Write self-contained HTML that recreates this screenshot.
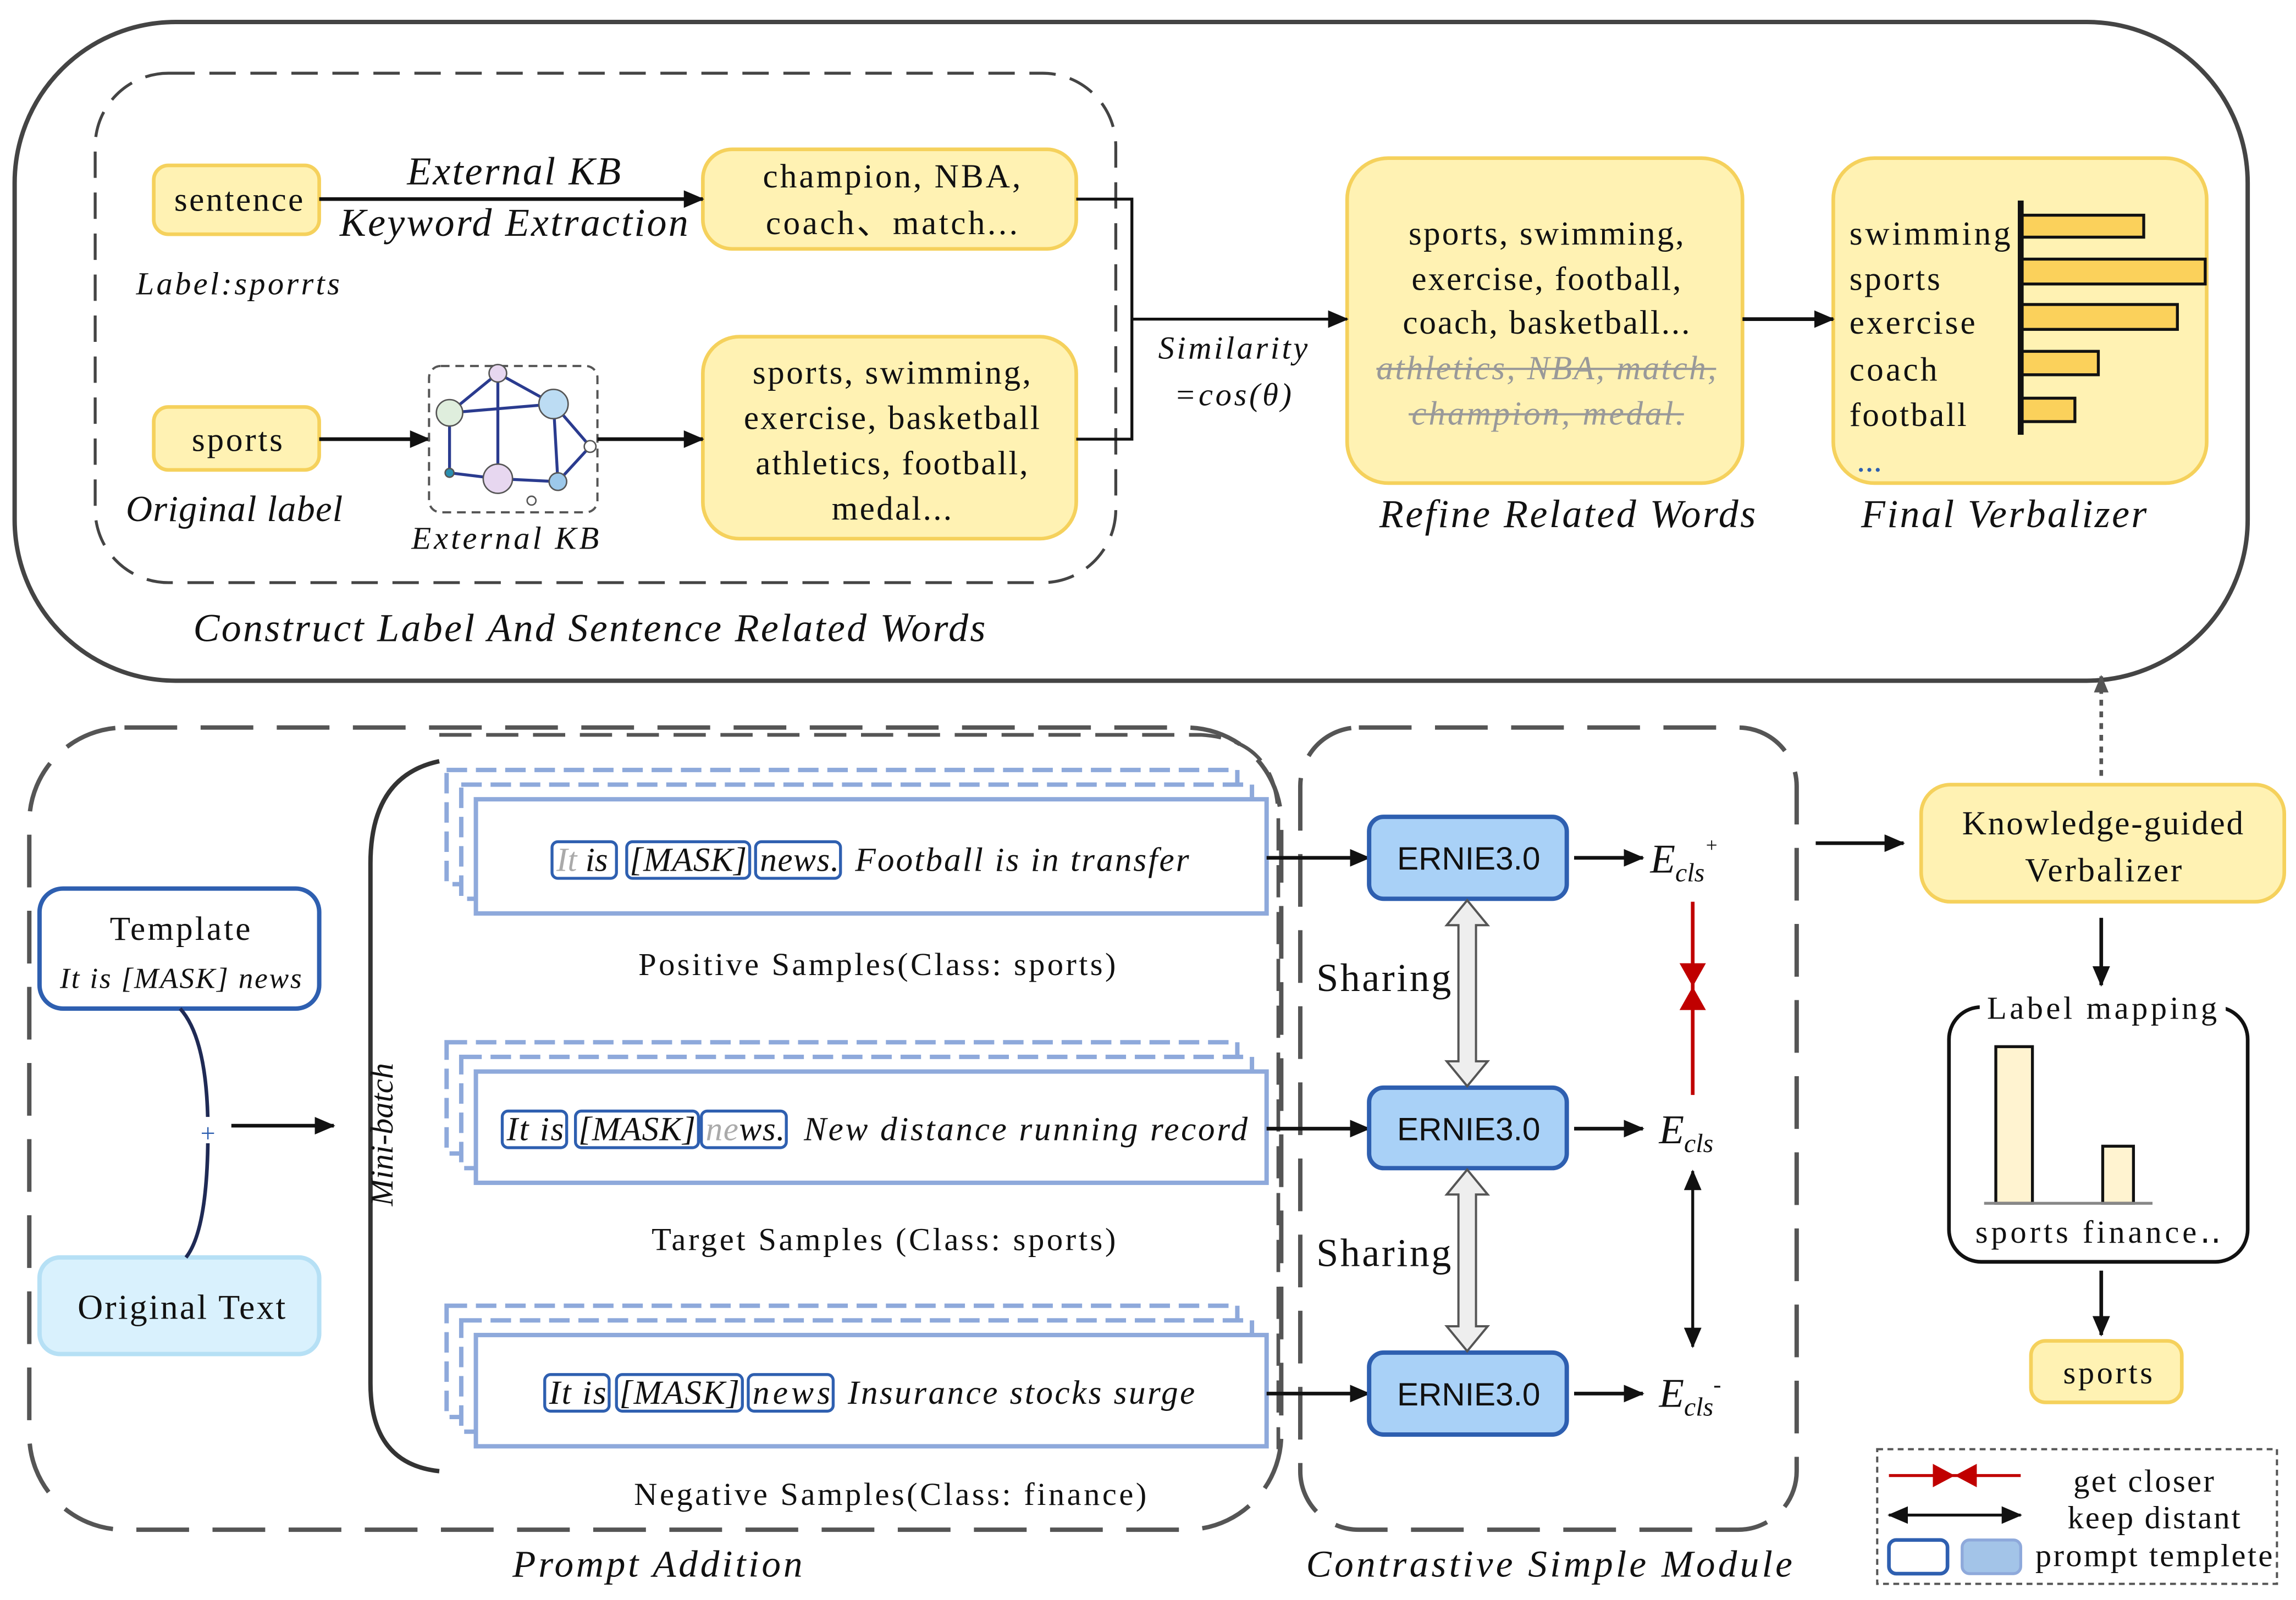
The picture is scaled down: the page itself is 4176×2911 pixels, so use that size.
<!DOCTYPE html>
<html><head><meta charset="utf-8"><style>
html,body{margin:0;padding:0;background:#fff}
svg{display:block}
text{font-family:"Liberation Serif",serif;fill:#111}
.i{font-style:italic}
.s{font-family:"Liberation Sans",sans-serif}
</style></head><body>
<svg width="4176" height="2911" viewBox="0 0 1568 1093" xmlns="http://www.w3.org/2000/svg">
<defs>
<marker id="a" markerWidth="10" markerHeight="10" refX="9" refY="5" orient="auto" markerUnits="userSpaceOnUse"><path d="M0,0 L10,5 L0,10 Z" fill="#111"/></marker>
<marker id="a2" markerWidth="14" markerHeight="12" refX="13" refY="6" orient="auto" markerUnits="userSpaceOnUse"><path d="M0,0 L14,6 L0,12 Z" fill="#111"/></marker>
<marker id="as" markerWidth="14" markerHeight="12" refX="1" refY="6" orient="auto" markerUnits="userSpaceOnUse"><path d="M14,0 L0,6 L14,12 Z" fill="#111"/></marker>
<marker id="ag" markerWidth="12" markerHeight="10" refX="11" refY="5" orient="auto" markerUnits="userSpaceOnUse"><path d="M0,0 L12,5 L0,10 Z" fill="#555"/></marker>
</defs>

<rect x="10" y="15" width="1525" height="450" rx="110" fill="none" stroke="#444" stroke-width="3"/>
<rect x="65" y="50" width="697" height="348" rx="50" fill="none" stroke="#444" stroke-width="2" stroke-dasharray="18,10"/>

<g fill="#fff2b3" stroke="#f5d15c" stroke-width="2.5">
<rect x="105" y="113" width="113" height="47" rx="10"/>
<rect x="105" y="278" width="113" height="43" rx="10"/>
<rect x="480" y="102" width="255" height="68" rx="20"/>
<rect x="480" y="230" width="255" height="138" rx="25"/>
<rect x="920" y="108" width="270" height="222" rx="28"/>
<rect x="1252" y="108" width="255" height="222" rx="28"/>
<rect x="1312" y="536" width="248" height="80" rx="20"/>
<rect x="1387" y="916" width="103" height="42" rx="10"/>
</g>
<text x="119" y="144" font-size="23" textLength="88">sentence</text>
<text x="131" y="308" font-size="23" textLength="62">sports</text>
<line x1="218" y1="136" x2="480" y2="136" stroke="#111" stroke-width="2.5" marker-end="url(#a2)"/>
<text x="278" y="126" font-size="27" class="i" textLength="146">External KB</text>
<text x="232" y="161" font-size="27" class="i" textLength="238">Keyword Extraction</text>
<text x="93" y="201" font-size="22" class="i" textLength="139">Label:sporrts</text>
<text x="521" y="128" font-size="23" textLength="176">champion, NBA,</text>
<text x="523" y="160" font-size="23" textLength="172">coach、match...</text>
<line x1="218" y1="300" x2="293" y2="300" stroke="#111" stroke-width="2.5" marker-end="url(#a2)"/>
<rect x="293" y="250" width="115" height="100" rx="8" fill="none" stroke="#555" stroke-width="1.5" stroke-dasharray="6,4"/>
<g stroke="#2a3b8f" stroke-width="2" fill="none">
<path d="M307,282 L340,255 L378,276 L403,305 L381,329 L340,327 L307,323 Z M307,282 L378,276 L381,329 M340,255 L340,327"/>
</g>
<g stroke="#555" stroke-width="1">
<circle cx="307" cy="282" r="9" fill="#dfeedd"/><circle cx="340" cy="255" r="6" fill="#e7d7f0"/>
<circle cx="378" cy="276" r="10" fill="#bcdcf3"/><circle cx="403" cy="305" r="4" fill="#fff"/>
<circle cx="381" cy="329" r="6" fill="#9cc8ea"/><circle cx="340" cy="327" r="10" fill="#e7d7f0"/>
<circle cx="307" cy="323" r="3" fill="#2a8fb0"/><circle cx="363" cy="342" r="3" fill="#fff"/>
</g>
<line x1="408" y1="300" x2="480" y2="300" stroke="#111" stroke-width="2.5" marker-end="url(#a2)"/>
<text x="514" y="262" font-size="23" textLength="190">sports, swimming,</text>
<text x="508" y="293" font-size="23" textLength="202">exercise, basketball</text>
<text x="516" y="324" font-size="23" textLength="186">athletics, football,</text>
<text x="568" y="355" font-size="23" textLength="82">medal...</text>
<text x="86" y="356" font-size="25" class="i" textLength="148">Original label</text>
<text x="281" y="375" font-size="22" class="i" textLength="128">External KB</text>
<text x="132" y="438" font-size="27" class="i" textLength="541">Construct Label And Sentence Related Words</text>

<path d="M735,136 H773 V300 H735" fill="none" stroke="#111" stroke-width="2"/>
<line x1="773" y1="218" x2="920" y2="218" stroke="#111" stroke-width="2" marker-end="url(#a2)"/>
<text x="791" y="245" font-size="22" class="i" textLength="102">Similarity</text>
<text x="802" y="277" font-size="22" class="i" textLength="80">=cos(θ)</text>

<text x="962" y="167" font-size="23" textLength="188">sports, swimming,</text>
<text x="964" y="198" font-size="23" textLength="184">exercise, football,</text>
<text x="958" y="228" font-size="23" textLength="196">coach, basketball...</text>
<text x="940" y="259" font-size="23" class="i" style="fill:#999" textLength="232">athletics, NBA, match,</text>
<text x="964" y="290" font-size="23" class="i" style="fill:#999" textLength="186">champion, medal.</text>
<line x1="940" y1="252" x2="1172" y2="252" stroke="#999" stroke-width="1.5"/>
<line x1="962" y1="283" x2="1150" y2="283" stroke="#999" stroke-width="1.5"/>
<text x="942" y="360" font-size="27" class="i" textLength="257">Refine Related Words</text>
<line x1="1190" y1="218" x2="1252" y2="218" stroke="#111" stroke-width="2.5" marker-end="url(#a2)"/>

<g font-size="23">
<text x="1263" y="167" textLength="110">swimming</text><text x="1263" y="198" textLength="62">sports</text><text x="1263" y="228" textLength="86">exercise</text>
<text x="1263" y="260" textLength="60">coach</text><text x="1263" y="291" textLength="80">football</text>
<text x="1268" y="322" style="fill:#2e5fb0">...</text>
</g>
<g fill="#fbd15b" stroke="#111" stroke-width="2">
<rect x="1380" y="147" width="84" height="15"/><rect x="1380" y="177" width="126" height="17"/>
<rect x="1380" y="208" width="107" height="17"/><rect x="1380" y="240" width="53" height="16"/>
<rect x="1380" y="272" width="37" height="16"/>
</g>
<line x1="1380" y1="137" x2="1380" y2="297" stroke="#111" stroke-width="4"/>
<text x="1271" y="360" font-size="27" class="i" textLength="195">Final Verbalizer</text>

<rect x="20" y="497" width="855" height="548" rx="65" fill="none" stroke="#555" stroke-width="3" stroke-dasharray="36,16"/>
<path d="M300,520 Q253,530 253,590 V945 Q253,1000 300,1005" fill="none" stroke="#333" stroke-width="3"/>
<path d="M300,502 H820 Q873,505 873,560 V990" fill="none" stroke="#555" stroke-width="2.5" stroke-dasharray="22,10"/>
<text x="0" y="0" font-size="22" class="i" text-anchor="middle" transform="translate(268,775) rotate(-90)">Mini-batch</text>

<rect x="27" y="607" width="191" height="82" rx="16" fill="#fff" stroke="#2e5fb0" stroke-width="3"/>
<text x="75" y="642" font-size="23" textLength="96">Template</text>
<text x="41" y="675" font-size="20" class="i" textLength="165">It is [MASK] news</text>
<rect x="27" y="859" width="191" height="66" rx="14" fill="#d9f1fd" stroke="#b6e0f5" stroke-width="3"/>
<text x="53" y="901" font-size="24" textLength="142">Original Text</text>
<path d="M123,689 Q142,710 142,773 Q142,840 127,859" fill="none" stroke="#1f2a55" stroke-width="2.5"/>
<rect x="135" y="763" width="14" height="18" fill="#fff"/>
<text x="142" y="780" font-size="18" text-anchor="middle" style="fill:#2e5fb0">+</text>
<line x1="158" y1="769" x2="228" y2="769" stroke="#111" stroke-width="2.5" marker-end="url(#a2)"/>

<g fill="#fff" stroke="#8ea9db" stroke-width="3">
<rect x="305" y="526" width="540" height="78" stroke-dasharray="14,6"/><rect x="315" y="536" width="540" height="78" stroke-dasharray="14,6"/><rect x="325" y="546" width="540" height="78"/>
<rect x="305" y="712" width="540" height="76" stroke-dasharray="14,6"/><rect x="315" y="722" width="540" height="76" stroke-dasharray="14,6"/><rect x="325" y="732" width="540" height="76"/>
<rect x="305" y="892" width="540" height="76" stroke-dasharray="14,6"/><rect x="315" y="902" width="540" height="76" stroke-dasharray="14,6"/><rect x="325" y="912" width="540" height="76"/>
</g>
<g fill="none" stroke="#2e5fb0" stroke-width="2">
<rect x="377" y="575" width="44" height="25" rx="4"/><rect x="428" y="575" width="84" height="25" rx="4"/><rect x="516" y="575" width="58" height="25" rx="4"/>
<rect x="343" y="759" width="44" height="25" rx="4"/><rect x="393" y="759" width="84" height="25" rx="4"/><rect x="479" y="759" width="58" height="25" rx="4"/>
<rect x="372" y="939" width="44" height="25" rx="4"/><rect x="421" y="939" width="86" height="25" rx="4"/><rect x="511" y="939" width="58" height="25" rx="4"/>
</g>
<g font-size="23" class="i">
<text x="380" y="595"><tspan style="fill:#aaa">It</tspan> is</text>
<text x="430" y="595" textLength="80">[MASK]</text>
<text x="519" y="595" textLength="54">news.</text>
<text x="584" y="595" textLength="228">Football is in transfer</text>
<text x="346" y="779" textLength="39">It is</text>
<text x="395" y="779" textLength="80">[MASK]</text>
<text x="482" y="779" textLength="54"><tspan style="fill:#aaa">ne</tspan>ws.</text>
<text x="549" y="779" textLength="303">New distance running record</text>
<text x="375" y="959" textLength="39">It is</text>
<text x="423" y="959" textLength="82">[MASK]</text>
<text x="514" y="959" textLength="53">news</text>
<text x="579" y="959" textLength="237">Insurance stocks surge</text>
</g>
<g font-size="22">
<text x="436" y="666" textLength="326">Positive Samples(Class: sports)</text>
<text x="445" y="854" textLength="317">Target Samples (Class: sports)</text>
<text x="433" y="1028" textLength="350">Negative Samples(Class: finance)</text>
</g>
<text x="350" y="1077" font-size="26" class="i" textLength="198">Prompt Addition</text>

<rect x="888" y="497" width="339" height="548" rx="40" fill="none" stroke="#555" stroke-width="3" stroke-dasharray="36,16"/>
<g stroke="#111" stroke-width="2.5">
<line x1="865" y1="586" x2="935" y2="586" marker-end="url(#a2)"/>
<line x1="865" y1="771" x2="935" y2="771" marker-end="url(#a2)"/>
<line x1="865" y1="952" x2="935" y2="952" marker-end="url(#a2)"/>
<line x1="1075" y1="586" x2="1122" y2="586" marker-end="url(#a2)"/>
<line x1="1075" y1="771" x2="1122" y2="771" marker-end="url(#a2)"/>
<line x1="1075" y1="952" x2="1122" y2="952" marker-end="url(#a2)"/>
</g>
<g fill="#a9d1f7" stroke="#2e5fb0" stroke-width="3">
<rect x="935" y="558" width="135" height="56" rx="10"/><rect x="935" y="743" width="135" height="55" rx="10"/><rect x="935" y="924" width="135" height="56" rx="10"/>
</g>
<g font-size="22" class="s" text-anchor="middle"><text x="1003" y="594" class="s">ERNIE3.0</text><text x="1003" y="779" class="s">ERNIE3.0</text><text x="1003" y="960" class="s">ERNIE3.0</text></g>
<g fill="#eee" stroke="#555" stroke-width="1.5">
<path d="M1002,615 L1016,632 L1008,632 L1008,725 L1016,725 L1002,742 L988,725 L996,725 L996,632 L988,632 Z"/>
<path d="M1002,799 L1016,816 L1008,816 L1008,906 L1016,906 L1002,923 L988,906 L996,906 L996,816 L988,816 Z"/>
</g>
<text x="899" y="677" font-size="27" textLength="92">Sharing</text>
<text x="899" y="865" font-size="27" textLength="92">Sharing</text>
<g font-size="28" class="i">
<text x="1127" y="596">E<tspan font-size="18" dy="6">cls</tspan><tspan font-size="14" dy="-20">+</tspan></text>
<text x="1133" y="781">E<tspan font-size="18" dy="6">cls</tspan></text>
<text x="1133" y="961">E<tspan font-size="18" dy="6">cls</tspan><tspan font-size="16" dy="-16">-</tspan></text>
</g>
<line x1="1156" y1="616" x2="1156" y2="748" stroke="#c00000" stroke-width="2.5"/>
<path d="M1147,658 L1165,658 L1156,674 Z M1147,690 L1165,690 L1156,674 Z" fill="#c00000"/>
<line x1="1156" y1="800" x2="1156" y2="920" stroke="#111" stroke-width="2" marker-start="url(#as)" marker-end="url(#a2)"/>
<text x="892" y="1077" font-size="26" class="i" textLength="332">Contrastive Simple  Module</text>

<line x1="1240" y1="576" x2="1300" y2="576" stroke="#111" stroke-width="2.5" marker-end="url(#a2)"/>
<text x="1340" y="570" font-size="23" textLength="192">Knowledge-guided</text>
<text x="1383" y="602" font-size="23" textLength="107">Verbalizer</text>
<line x1="1435" y1="530" x2="1435" y2="462" stroke="#555" stroke-width="2.5" stroke-dasharray="4,4" marker-end="url(#ag)"/>
<line x1="1435" y1="627" x2="1435" y2="673" stroke="#111" stroke-width="2.5" marker-end="url(#a2)"/>
<rect x="1331" y="688" width="204" height="174" rx="22" fill="none" stroke="#111" stroke-width="2.5"/>
<rect x="1352" y="676" width="168" height="26" fill="#fff"/>
<text x="1357" y="696" font-size="22" textLength="157">Label mapping</text>
<g fill="#fff3d0" stroke="#111" stroke-width="2"><rect x="1363" y="715" width="25" height="107"/><rect x="1436" y="783" width="21" height="39"/></g>
<line x1="1355" y1="822" x2="1470" y2="822" stroke="#888" stroke-width="2"/>
<text x="1349" y="849" font-size="22" textLength="168">sports  finance‥</text>
<line x1="1435" y1="868" x2="1435" y2="912" stroke="#111" stroke-width="2.5" marker-end="url(#a2)"/>
<text x="1409" y="945" font-size="22" textLength="61">sports</text>

<rect x="1282" y="990" width="273" height="92" fill="none" stroke="#555" stroke-width="1.5" stroke-dasharray="4,3"/>
<line x1="1290" y1="1008" x2="1380" y2="1008" stroke="#c00000" stroke-width="2"/>
<path d="M1320,1000 L1320,1016 L1335,1008 Z M1350,1000 L1350,1016 L1335,1008 Z" fill="#c00000"/>
<line x1="1290" y1="1035" x2="1380" y2="1035" stroke="#111" stroke-width="2" marker-start="url(#as)" marker-end="url(#a2)"/>
<rect x="1290" y="1052" width="40" height="23" rx="5" fill="#fff" stroke="#2e5fb0" stroke-width="2.5"/>
<rect x="1340" y="1052" width="40" height="23" rx="5" fill="#a3c4e8" stroke="#8ea9db" stroke-width="2"/>
<g font-size="22"><text x="1416" y="1019" textLength="96">get closer</text><text x="1412" y="1044" textLength="118">keep distant</text><text x="1390" y="1070" textLength="162">prompt templete</text></g>
</svg>
</body></html>
